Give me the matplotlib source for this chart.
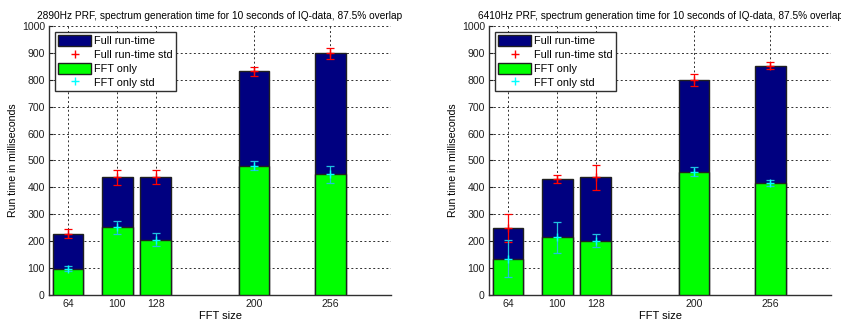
import matplotlib
matplotlib.use('Agg')
import matplotlib.pyplot as plt
from matplotlib.patches import Patch
from matplotlib.lines import Line2D

plt.rcParams['font.family'] = ['Liberation Sans', 'DejaVu Sans']

fft_sizes = [64, 100, 128, 200, 256]

# 2890Hz PRF run
full_2890 = [228, 438, 440, 832, 898]
full_std_2890 = [18, 28, 26, 17, 22]
fft_2890 = [97, 252, 205, 480, 449]
fft_std_2890 = [9, 24, 24, 17, 31]

# 6410Hz PRF run
full_6410 = [250, 432, 437, 799, 852]
full_std_6410 = [52, 15, 48, 23, 13]
fft_6410 = [135, 214, 202, 459, 416]
fft_std_6410 = [68, 58, 24, 18, 10]

titles = ['2890Hz PRF, spectrum generation time for 10 seconds of IQ-data, 87.5% overlap',
          '6410Hz PRF, spectrum generation time for 10 seconds of IQ-data, 87.5% overlap']

NAVY = '#000080'
GREEN = '#00ff00'


def draw_panel(ax, title, full, full_std, fft, fft_std):
    width = 22.4
    ax.bar(fft_sizes, full, width, color=NAVY, edgecolor='#202020', linewidth=1.0, zorder=2)
    ax.bar(fft_sizes, fft, width, color=GREEN, edgecolor='#202020', linewidth=1.0, zorder=3)
    ax.errorbar(fft_sizes, full, yerr=full_std, fmt='+', color='red', ecolor='red',
                elinewidth=0.9, capsize=3, capthick=0.9, markersize=6, zorder=4)
    ax.errorbar(fft_sizes, fft, yerr=fft_std, fmt='+', color='cyan', ecolor='#20c0e0',
                elinewidth=0.9, capsize=3, capthick=0.9, markersize=6, zorder=4)

    ax.set_xlim(50, 300.5)
    ax.set_ylim(0, 1000)
    ax.set_xticks(fft_sizes)
    ax.set_yticks(range(0, 1001, 100))
    ax.grid(True, linestyle=(0, (2, 2.5)), color='#303030', linewidth=0.7, zorder=0)
    ax.set_axisbelow(True)
    ax.tick_params(direction='in', length=3, labelsize=7.6, colors='#202020', pad=3)
    for side in ('top', 'right'):
        ax.spines[side].set_visible(False)
    for side in ('left', 'bottom'):
        ax.spines[side].set_color('#303030')
        ax.spines[side].set_linewidth(1.0)

    ax.set_title(title, fontsize=7.3, pad=5)
    ax.set_xlabel('FFT size', fontsize=8, labelpad=1)
    ax.set_ylabel('Run time in milliseconds', fontsize=7.6, labelpad=3)

    handles = [Patch(facecolor=NAVY, edgecolor='#202020'),
               Line2D([], [], linestyle='none', marker='+', color='red', markersize=6),
               Patch(facecolor=GREEN, edgecolor='#202020'),
               Line2D([], [], linestyle='none', marker='+', color='cyan', markersize=6)]
    labels = ['Full run-time', 'Full run-time std', 'FFT only', 'FFT only std']
    leg = ax.legend(handles, labels, loc='upper left', bbox_to_anchor=(0.018, 0.977),
                    fontsize=7.8, frameon=True, fancybox=False, handlelength=3.0,
                    handleheight=1.15, handletextpad=0.3, labelspacing=0.25,
                    borderpad=0.3, borderaxespad=0.0)
    leg.get_frame().set_edgecolor('#303030')
    leg.get_frame().set_linewidth(1.0)
    leg.get_frame().set_alpha(1)


fig = plt.figure(figsize=(8.41, 3.22), dpi=100)
ax1 = fig.add_axes([0.0583, 0.0839, 0.4067, 0.8354])
ax2 = fig.add_axes([0.5815, 0.0839, 0.4067, 0.8354])

draw_panel(ax1, titles[0], full_2890, full_std_2890, fft_2890, fft_std_2890)
draw_panel(ax2, titles[1], full_6410, full_std_6410, fft_6410, fft_std_6410)

fig.savefig('out.png', dpi=100)
